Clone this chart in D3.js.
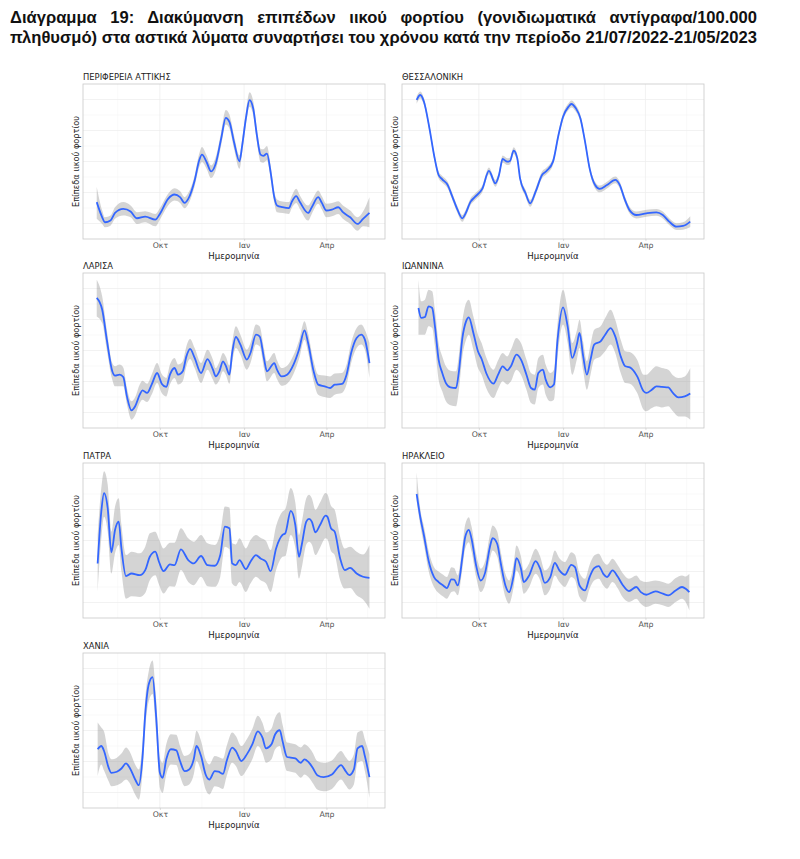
<!DOCTYPE html>
<html><head><meta charset="utf-8">
<script src="https://cdn.jsdelivr.net/npm/d3@7"></script>
<style>body{margin:0;background:#fff}</style>
</head><body><svg id="c" width="800" height="859"></svg>
<script>
const titleLines = [
  "Διάγραμμα 19: Διακύμανση επιπέδων ιικού φορτίου (γονιδιωματικά αντίγραφα/100.000",
  "πληθυσμό) στα αστικά λύματα συναρτήσει του χρόνου κατά την περίοδο 21/07/2022-21/05/2023"
];
const panelTitles = ["ΠΕΡΙΦΕΡΕΙΑ ΑΤΤΙΚΗΣ","ΘΕΣΣΑΛΟΝΙΚΗ","ΛΑΡΙΣΑ","ΙΩΑΝΝΙΝΑ","ΠΑΤΡΑ","ΗΡΑΚΛΕΙΟ","ΧΑΝΙΑ"];
const yLabel = "Επίπεδα ιικού φορτίου";
const xLabel = "Ημερομηνία";
const tickDates = ["2022-10-01","2023-01-01","2023-04-01"];
const tickLabels = ["Οκτ","Ιαν","Απρ"];
const minorDates = ["2022-08-16","2022-11-16","2023-02-15","2023-05-16"];
const yMajor = [10,30,50,70,90];
const yMinor = [20,40,60,80];
const startDate = "2022-07-21";
// rows: [days since startDate, fitted level, lower, upper] (relative units)
const attiki = [[3,23.8,13.0,33.5],[9,14.0,9.7,18.4],[12,10.8,7.6,14.0],[18,11.9,8.6,15.1],[23,16.8,13.0,20.5],[32,19.4,15.1,23.8],[40,17.7,14.0,21.6],[47,13.4,9.7,17.3],[56,14.5,10.8,17.9],[67,12.5,8.2,16.2],[72,16.2,12.5,19.9],[81,25.9,21.6,29.2],[88,28.7,24.8,32.8],[94,27.0,23.3,30.9],[99,23.3,19.9,27.0],[103,25.9,22.5,29.6],[110,37.8,34.1,41.0],[115,50.8,46.4,55.1],[118,54.4,49.7,59.4],[123,49.7,45.4,54.0],[128,43.6,39.3,47.5],[133,48.6,44.3,52.9],[139,64.8,60.5,69.1],[144,78.2,73.9,83.2],[148,75.6,71.3,80.3],[153,62.6,58.3,67.0],[159,50.1,45.4,54.0],[162,60.5,56.2,64.8],[166,77.8,73.4,82.1],[170,89.6,85.3,94.6],[174,84.2,79.9,89.0],[178,67.0,62.6,71.3],[182,54.4,49.7,58.3],[185,53.6,49.2,57.9],[189,55.1,50.8,60.0],[193,43.2,38.9,47.5],[197,27.0,23.3,30.7],[200,21.6,17.3,25.5],[206,20.5,16.8,24.2],[213,19.9,16.2,23.8],[216,23.8,19.9,27.6],[221,27.6,23.3,32.4],[225,23.8,19.4,28.1],[234,16.8,11.9,21.6],[238,20.5,16.2,24.8],[245,27.0,22.7,31.3],[249,23.3,19.0,27.6],[254,18.4,14.0,22.7],[260,19.0,14.7,23.3],[267,20.5,16.2,24.4],[272,17.3,13.0,21.6],[280,14.0,9.7,18.4],[288,9.7,5.4,14.0],[294,13.0,8.2,17.7],[301,16.8,7.6,27.0]];
const thessaloniki = [[4,89.7,87.2,92.2],[8,92.9,90.6,95.2],[12,88.6,86.4,90.8],[18,71.4,69.2,73.6],[23,54.2,52.0,56.4],[28,41.3,39.1,43.5],[32,38.5,36.3,40.7],[38,34.8,32.6,37.0],[43,27.3,25.1,29.5],[48,19.8,17.6,22.0],[54,13.3,11.1,15.5],[57,15.9,13.7,18.1],[63,24.1,21.9,26.3],[68,27.3,25.1,29.5],[76,32.7,30.5,34.9],[83,43.9,41.7,46.1],[90,35.9,33.7,38.1],[94,41.3,39.1,43.5],[98,51.6,49.4,53.8],[103,49.9,47.7,52.1],[106,50.3,48.1,52.5],[110,57.0,54.8,59.2],[114,52.0,49.8,54.2],[117,39.1,36.9,41.3],[123,29.5,27.3,31.7],[128,23.0,20.8,25.2],[134,30.5,28.3,32.7],[141,41.3,39.1,43.5],[146,43.9,41.7,46.1],[153,49.9,47.7,52.1],[159,67.1,64.9,69.3],[164,78.9,76.7,81.1],[170,85.4,83.2,87.6],[173,87.1,84.9,89.3],[178,84.3,82.1,86.5],[183,77.8,75.6,80.0],[188,62.8,60.6,65.0],[193,45.6,43.4,47.8],[199,34.8,32.6,37.0],[204,32.3,30.1,34.5],[212,34.8,32.6,37.0],[221,38.1,35.9,40.3],[226,34.8,32.6,37.0],[231,26.2,24.0,28.4],[237,18.3,16.1,20.5],[244,15.5,13.3,17.7],[255,16.6,14.4,18.8],[266,17.2,15.0,19.4],[273,15.5,13.3,17.7],[280,11.2,9.0,13.4],[288,8.0,5.8,10.2],[295,8.4,6.0,10.8],[303,11.2,7.7,14.7]];
const larisa = [[3,83.9,72.0,95.7],[9,76.3,67.7,84.9],[14,57.0,50.5,63.4],[20,36.6,31.2,41.9],[23,33.8,26.9,39.8],[28,34.4,26.9,40.9],[32,32.9,26.9,39.1],[36,20.4,15.1,25.8],[41,11.4,5.4,17.2],[45,14.0,8.2,19.8],[50,21.5,16.1,28.0],[53,24.3,18.3,30.5],[58,22.6,16.8,28.6],[63,28.0,21.5,34.4],[69,35.5,29.0,41.9],[74,28.6,22.6,34.8],[79,26.5,20.4,32.3],[83,34.4,28.0,40.9],[88,38.7,32.3,45.2],[92,34.4,28.0,40.9],[97,36.6,30.1,43.0],[101,46.2,39.8,52.7],[105,51.0,44.5,57.4],[110,45.2,38.7,51.6],[117,35.5,29.0,41.9],[124,44.5,37.6,50.5],[130,37.6,31.2,44.1],[133,33.3,28.0,38.7],[137,36.6,30.8,42.6],[141,43.0,36.6,48.4],[144,40.2,34.4,46.2],[148,34.4,28.6,40.4],[151,48.4,41.9,54.8],[155,58.7,51.6,65.6],[160,53.8,47.3,60.2],[167,44.1,37.6,50.5],[171,48.4,41.9,54.8],[177,60.2,53.8,66.7],[181,59.1,52.7,65.6],[186,44.1,37.6,50.5],[189,36.6,30.1,43.0],[197,41.9,35.5,48.4],[200,37.6,31.6,43.7],[205,33.3,27.3,38.7],[211,34.4,28.6,40.2],[218,40.9,34.8,46.9],[224,50.5,44.5,56.3],[230,63.0,57.0,68.8],[234,54.8,48.8,60.9],[240,36.6,30.1,43.0],[245,28.0,21.5,34.4],[252,26.9,20.0,33.8],[258,25.8,19.4,33.3],[263,28.0,21.5,35.1],[271,28.4,22.6,35.5],[276,34.4,28.0,40.9],[281,48.4,41.9,54.8],[287,58.1,51.6,64.5],[292,60.2,53.8,66.7],[296,57.0,50.5,63.4],[301,41.9,32.3,54.8]];
const ioannina = [[6,77.4,60.2,95.7],[9,71.0,60.2,81.7],[13,71.6,60.2,82.8],[17,78.5,65.6,89.2],[21,77.4,64.5,88.2],[24,65.6,52.7,76.3],[28,44.1,31.2,54.8],[32,35.5,23.7,46.2],[36,29.0,17.2,39.8],[41,26.2,14.6,37.0],[47,25.8,14.0,36.6],[50,35.5,23.7,46.2],[54,58.1,46.2,68.8],[58,68.8,57.0,80.6],[61,71.4,60.2,82.8],[66,61.3,50.5,72.0],[71,49.5,38.7,60.2],[75,44.5,34.4,54.8],[80,35.5,25.8,45.6],[88,28.6,19.4,37.6],[93,34.4,25.2,43.7],[98,39.8,30.1,48.4],[103,37.2,28.0,46.2],[107,39.8,30.1,50.5],[113,47.3,37.6,58.1],[118,44.1,34.4,54.8],[124,34.4,24.7,44.1],[129,25.8,16.1,35.5],[133,24.7,15.1,34.4],[137,35.5,25.8,45.2],[142,37.6,28.0,47.3],[145,31.2,21.5,40.9],[150,26.2,17.2,35.5],[154,28.0,18.3,37.6],[158,57.0,46.2,67.7],[164,77.8,66.7,89.2],[169,65.6,54.8,76.3],[174,45.2,34.4,54.8],[179,53.8,44.1,62.8],[182,61.3,51.6,69.9],[186,46.2,37.0,55.5],[190,34.4,24.7,43.0],[194,44.1,34.4,53.8],[198,53.8,44.1,63.4],[205,55.9,46.2,65.6],[210,60.2,49.5,71.0],[216,64.5,53.8,76.3],[221,59.1,48.4,69.9],[227,46.2,35.5,57.0],[232,39.8,29.0,49.5],[237,39.1,28.6,49.0],[245,33.3,22.6,44.1],[252,23.7,11.8,34.4],[255,22.6,10.8,34.4],[261,24.7,12.9,37.6],[266,26.9,14.0,39.8],[272,26.5,13.3,38.7],[279,26.2,14.0,37.6],[284,22.6,10.8,34.0],[290,19.8,7.5,32.3],[297,20.4,7.5,33.3],[303,22.2,5.4,38.7]];
const patra = [[4,35.2,16.8,53.6],[8,68.7,51.4,83.8],[11,80.6,65.4,94.6],[15,70.8,55.7,86.0],[19,42.3,28.7,55.7],[23,56.8,41.7,71.9],[27,62.2,47.1,77.3],[30,44.9,30.2,60.0],[35,27.0,12.5,40.6],[41,28.7,14.0,42.8],[50,27.6,13.6,41.7],[56,30.9,16.2,46.0],[61,39.5,24.4,54.6],[67,42.8,27.6,55.7],[71,36.3,21.6,50.8],[76,30.2,15.8,44.9],[83,34.6,20.5,48.6],[88,34.1,20.1,48.6],[95,44.3,30.9,57.9],[103,37.4,23.3,51.4],[109,35.2,21.2,49.2],[117,40.0,26.6,53.6],[124,34.1,20.5,48.2],[132,33.7,20.1,47.1],[138,40.6,26.6,54.6],[143,59.0,46.0,71.9],[148,57.9,44.3,71.3],[151,35.2,22.2,48.2],[155,34.1,20.5,47.5],[159,37.4,23.3,51.4],[166,31.5,16.8,44.9],[171,36.3,22.2,50.3],[177,40.6,26.6,53.6],[182,38.4,24.4,51.8],[188,36.3,22.2,49.7],[193,30.2,16.8,43.8],[199,44.9,30.9,59.4],[206,53.6,39.5,68.7],[209,54.6,40.0,70.2],[215,69.1,53.6,83.8],[220,60.0,45.4,74.5],[224,39.5,25.5,53.6],[227,47.1,32.4,61.6],[232,62.2,47.5,77.3],[235,63.9,49.2,79.5],[238,62.2,47.5,77.3],[242,55.3,40.6,69.8],[247,60.0,45.4,74.5],[253,66.1,51.4,80.6],[255,65.4,50.8,79.9],[259,57.9,43.2,72.4],[263,55.7,40.6,69.8],[269,38.4,24.4,52.5],[274,30.9,19.0,44.9],[280,32.4,19.4,46.0],[287,28.7,14.7,42.8],[294,26.6,11.9,41.0],[301,25.9,6.0,47.1]];
const irakleio = [[4,80.0,75.5,94.0],[8,65.0,59.7,70.4],[12,53.2,47.2,59.0],[17,37.1,30.7,43.6],[23,26.4,20.0,32.8],[28,23.2,16.1,30.0],[33,21.0,13.9,27.9],[37,19.3,12.4,26.4],[42,24.9,16.7,32.8],[45,24.7,17.2,32.2],[49,21.0,14.6,27.5],[54,39.3,31.8,46.8],[57,52.1,44.6,60.1],[61,56.9,48.9,65.0],[64,51.1,42.9,59.0],[69,33.9,26.4,41.4],[74,24.2,16.7,31.8],[79,29.6,22.1,37.1],[84,45.7,38.2,53.6],[87,51.5,43.6,59.7],[92,47.9,39.7,55.8],[96,35.0,27.5,42.5],[101,21.0,13.5,28.5],[105,16.7,9.2,24.2],[110,27.5,20.0,35.4],[113,38.6,30.7,46.8],[118,31.8,24.2,39.7],[121,23.2,15.7,30.7],[127,27.5,20.0,35.4],[134,36.7,28.5,44.6],[139,31.8,24.2,39.7],[144,22.7,14.6,30.7],[150,26.4,18.9,34.3],[155,35.6,27.5,43.6],[160,30.7,23.2,38.6],[166,27.9,20.0,36.1],[173,34.3,26.4,42.5],[177,32.8,24.7,40.8],[182,21.0,13.5,29.0],[188,17.8,10.3,25.3],[193,26.4,18.9,34.3],[198,32.2,24.2,40.3],[203,33.5,25.3,41.4],[208,28.5,21.0,36.5],[212,26.4,18.9,34.3],[218,30.7,23.2,38.2],[224,26.4,18.9,33.9],[229,21.5,13.5,29.0],[236,17.4,10.3,25.3],[244,20.0,12.4,27.5],[249,16.7,9.2,24.2],[255,15.0,7.1,23.2],[265,17.2,9.2,24.2],[273,15.7,8.2,23.2],[279,14.6,7.1,22.1],[287,17.8,10.3,25.8],[294,20.0,12.4,27.5],[298,18.9,10.3,26.8],[302,16.7,4.9,28.5]];
const chania = [[4,37.9,20.6,55.2],[8,40.0,28.1,51.9],[11,36.8,24.2,49.4],[16,26.0,17.3,34.6],[19,22.7,14.1,31.4],[25,23.4,14.7,32.5],[30,25.5,16.2,35.1],[35,28.8,18.4,39.0],[39,26.0,16.2,36.4],[45,18.4,8.7,28.1],[49,14.7,5.4,24.9],[53,32.5,22.7,42.2],[56,60.6,50.9,70.3],[60,80.1,69.3,88.7],[64,84.4,73.6,95.2],[68,58.4,47.6,69.3],[72,22.7,13.0,32.5],[75,19.5,9.7,29.2],[79,31.4,21.6,41.1],[84,37.9,28.1,47.6],[90,37.2,27.7,47.2],[94,30.3,20.6,40.0],[99,23.8,14.1,33.5],[104,24.9,15.2,34.6],[109,31.4,21.6,41.1],[112,40.0,30.3,49.8],[117,33.5,23.8,43.3],[122,21.6,11.9,31.4],[126,18.4,8.7,28.1],[132,23.8,14.1,33.5],[136,23.4,13.6,32.9],[141,22.1,12.3,31.8],[145,30.3,20.6,40.0],[151,39.0,29.2,48.7],[155,36.8,27.1,46.5],[161,30.3,20.6,40.0],[167,34.6,24.9,44.4],[173,41.1,31.4,50.9],[179,49.4,40.0,59.5],[184,45.5,35.7,55.2],[188,38.5,29.2,48.7],[194,41.1,31.4,51.3],[198,47.6,37.9,58.4],[203,50.2,40.0,61.7],[206,43.3,33.5,54.1],[211,32.9,23.8,42.2],[215,32.5,23.4,41.8],[220,32.0,22.7,41.1],[226,29.2,19.5,39.0],[230,31.4,21.6,41.1],[234,29.9,20.1,39.6],[239,26.0,16.2,35.7],[244,21.2,11.9,30.3],[251,19.9,10.8,29.2],[260,21.6,12.3,30.7],[270,27.7,18.4,36.8],[275,23.8,14.7,32.9],[279,21.2,11.9,30.3],[284,24.9,15.2,34.6],[288,38.5,29.2,48.7],[293,40.0,30.3,49.8],[296,33.5,23.8,44.4],[301,19.9,6.5,34.6]];
const seriesList = [attiki, thessaloniki, larisa, ioannina, patra, irakleio, chania];

// ---- layout ----
const svg = d3.select("#c");
svg.append("rect").attr("width",800).attr("height",859).attr("fill","#fff");
const colX = [83, 402], plotW = 302;
const rowY = [84, 273, 463, 653], plotH = 155;
const parse = d3.utcParse("%Y-%m-%d");
const t0 = parse(startDate);
const toDate = d => d3.utcDay.offset(t0, d);

// title
const titleFont = "'Liberation Sans Narrow','Liberation Sans',Arial,sans-serif";
const tW = 747, tX = 10;
const tl2 = svg.append("text").attr("x",tX).attr("y",43)
  .attr("font-family",titleFont).attr("font-weight","bold").attr("font-size",16)
  .attr("fill","#111").text(titleLines[1]);
let w2 = tl2.node().getComputedTextLength();
let fs = Math.max(14, Math.min(17.5, 16 * tW / w2));
tl2.attr("font-size", fs);
tl2.attr("textLength", tW).attr("lengthAdjust","spacingAndGlyphs");
const tl1 = svg.append("text").attr("x",tX).attr("y",23)
  .attr("font-family",titleFont).attr("font-weight","bold").attr("font-size",fs)
  .attr("fill","#111").text(titleLines[0]);
const w1 = tl1.node().getComputedTextLength();
const nsp = titleLines[0].split(" ").length - 1;
if (w1 < tW) tl1.attr("word-spacing", (tW - w1) / nsp);
else tl1.attr("textLength", tW).attr("lengthAdjust","spacingAndGlyphs");

// x domain from data extent with 5% expansion
const allDays = seriesList.flatMap(s => s.map(r => r[0]));
const [dmin, dmax] = d3.extent(allDays);
const pad = (dmax - dmin) * 0.05;
const xDomain = [toDate(dmin - pad), toDate(dmax + pad)];

const lab = "'DejaVu Sans','Liberation Sans',Arial,sans-serif";

seriesList.forEach((data, i) => {
  const px = colX[i % 2], py = rowY[Math.floor(i / 2)];
  const x = d3.scaleUtc().domain(xDomain).range([px, px + plotW]);
  const y = d3.scaleLinear().domain([0, 100]).range([py + plotH, py]);
  const g = svg.append("g");
  // grid
  g.selectAll(".vmin").data(minorDates).join("line")
    .attr("x1", d => x(parse(d))).attr("x2", d => x(parse(d)))
    .attr("y1", py).attr("y2", py + plotH).attr("stroke","#f5f5f5").attr("stroke-width",0.6);
  g.selectAll(".hmin").data(yMinor).join("line")
    .attr("x1", px).attr("x2", px + plotW).attr("y1", d => y(d)).attr("y2", d => y(d))
    .attr("stroke","#f5f5f5").attr("stroke-width",0.6);
  g.selectAll(".vmaj").data(tickDates).join("line")
    .attr("x1", d => x(parse(d))).attr("x2", d => x(parse(d)))
    .attr("y1", py).attr("y2", py + plotH).attr("stroke","#ececec").attr("stroke-width",0.7);
  g.selectAll(".hmaj").data(yMajor).join("line")
    .attr("x1", px).attr("x2", px + plotW).attr("y1", d => y(d)).attr("y2", d => y(d))
    .attr("stroke","#ececec").attr("stroke-width",0.7);

  const clipId = "clip" + i;
  svg.append("clipPath").attr("id", clipId).append("rect")
    .attr("x", px).attr("y", py).attr("width", plotW).attr("height", plotH);
  const pg = g.append("g").attr("clip-path", `url(#${clipId})`);
  const area = d3.area().x(d => x(toDate(d[0]))).y0(d => y(d[2])).y1(d => y(d[3])).curve(d3.curveMonotoneX);
  const line = d3.line().x(d => x(toDate(d[0]))).y(d => y(d[1])).curve(d3.curveMonotoneX);
  pg.append("path").attr("d", area(data)).attr("fill","#999").attr("fill-opacity",0.42);
  pg.append("path").attr("d", line(data)).attr("fill","none").attr("stroke","#3366FF").attr("stroke-width",1.8);

  // border
  g.append("rect").attr("x", px).attr("y", py).attr("width", plotW).attr("height", plotH)
    .attr("fill","none").attr("stroke","#c8c8c8").attr("stroke-width",0.8);

  // x axis labels
  const ax = g.append("g").attr("transform", `translate(0,${py + plotH})`)
    .call(d3.axisBottom(x).tickValues(tickDates.map(parse))
      .tickFormat((d, k) => tickLabels[k]).tickSize(2).tickPadding(1.5));
  ax.select(".domain").remove();
  ax.selectAll(".tick line").attr("stroke","#c8c8c8").attr("stroke-width",0.6);
  ax.selectAll(".tick text").attr("font-family", lab).attr("font-size", 7.8).attr("fill","#555");

  g.append("text").attr("x", px + plotW / 2).attr("y", py + plotH + 19.5)
    .attr("text-anchor","middle").attr("font-family", lab).attr("font-size", 8.6)
    .attr("fill","#222").text(xLabel);
  g.append("text").attr("transform", `translate(${px - 4},${py + plotH / 2}) rotate(-90)`)
    .attr("text-anchor","middle").attr("font-family", lab).attr("font-size", 8.2)
    .attr("fill","#222").text(yLabel);
  g.append("text").attr("x", px).attr("y", py - 4)
    .attr("font-family", lab).attr("font-size", 8.4).attr("fill","#222").text(panelTitles[i]);
});
</script></body></html>
